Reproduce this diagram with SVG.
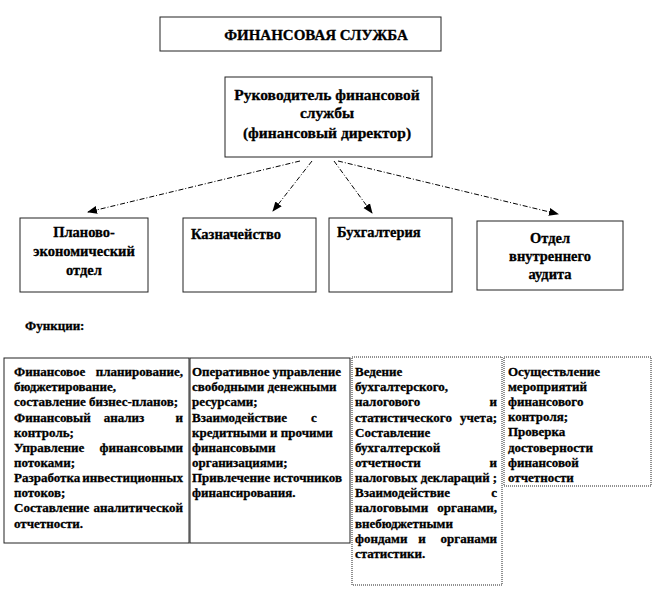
<svg xmlns="http://www.w3.org/2000/svg" width="653" height="593" viewBox="0 0 653 593">
<defs>
<marker id="ah" markerUnits="userSpaceOnUse" markerWidth="10" markerHeight="10" viewBox="0 0 10 10" refX="9" refY="5" orient="auto">
<path d="M0,1 L10,5 L0,9 Z" fill="#000"/>
</marker>
</defs>
<style>
.box{fill:#fff;stroke:#222;stroke-width:1}
.dot{fill:#fff;stroke:#222;stroke-width:1;stroke-dasharray:1 1}
.t{font-family:"Liberation Serif","Times New Roman",serif;font-weight:bold;fill:#000;stroke:#000;stroke-width:0.3}
.h{font-size:15px}
.d{font-size:15.5px}
.b{font-size:14.5px}
.s{font-size:13px}
.c{text-anchor:middle}
.e{text-anchor:end}
.arr{fill:none;stroke:#000;stroke-width:1;stroke-dasharray:5 2 1 2;marker-end:url(#ah)}
</style>
<rect width="653" height="593" fill="#fff"/>

<g id="title">
<rect class="box" x="160" y="17" width="281" height="34"/>
<text class="t h c" x="316" y="40">ФИНАНСОВАЯ СЛУЖБА</text>
</g>

<g id="director">
<rect class="box" x="225" y="77" width="207" height="80"/>
<text class="t d c" x="327" y="100">Руководитель финансовой</text>
<text class="t d c" x="327" y="118">службы</text>
<text class="t d c" x="327" y="138">(финансовый директор)</text>
</g>

<g id="connectors">
<line class="arr" x1="300" y1="161" x2="88" y2="212"/>
<line class="arr" x1="312" y1="161" x2="273" y2="211"/>
<line class="arr" x1="334" y1="161" x2="372" y2="213"/>
<line class="arr" x1="338" y1="161" x2="558" y2="214"/>
</g>

<g id="plan">
<rect class="box" x="20" y="218" width="128" height="74"/>
<text class="t b c" x="84" y="237">Планово-</text>
<text class="t b c" x="84" y="256">экономический</text>
<text class="t b c" x="84" y="275">отдел</text>
</g>

<g id="treasury">
<rect class="box" x="183" y="218" width="133" height="74"/>
<text class="t b" x="191" y="239">Казначейство</text>
</g>

<g id="accounting">
<rect class="box" x="329" y="218" width="123" height="74"/>
<text class="t b" x="337" y="237">Бухгалтерия</text>
</g>

<g id="audit">
<rect class="box" x="477" y="221" width="146" height="69"/>
<text class="t b c" x="550" y="243">Отдел</text>
<text class="t b c" x="550" y="261">внутреннего</text>
<text class="t b c" x="550" y="279">аудита</text>
</g>

<text class="t s" x="25" y="330">Функции:</text>

<g id="func1">
<rect class="box" x="4" y="358" width="185" height="185"/>
<g class="t s">
<text x="14" y="376">Финансовое</text><text class="e" x="183" y="376">планирование,</text>
<text x="14" y="391.2">бюджетирование,</text>
<text x="14" y="406.3">составление бизнес-планов;</text>
<text x="14" y="421.5">Финансовый</text><text class="c" x="124" y="421.5">анализ</text><text class="e" x="183" y="421.5">и</text>
<text x="14" y="436.6">контроль;</text>
<text x="14" y="451.8">Управление</text><text class="e" x="183" y="451.8">финансовыми</text>
<text x="14" y="466.9">потоками;</text>
<text x="14" y="482.1">Разработка</text><text class="e" x="183" y="482.1">инвестиционных</text>
<text x="14" y="497.2">потоков;</text>
<text x="14" y="512.4">Составление</text><text class="e" x="183" y="512.4">аналитической</text>
<text x="14" y="527.5">отчетности.</text>
</g>
</g>

<g id="func2">
<rect class="box" x="190" y="358" width="160" height="185"/>
<g class="t s">
<text x="192" y="376">Оперативное управление</text>
<text x="192" y="391.2">свободными денежными</text>
<text x="192" y="406.3">ресурсами;</text>
<text x="192" y="421.5">Взаимодействие</text><text x="311" y="421.5">с</text>
<text x="192" y="436.6">кредитными и прочими</text>
<text x="192" y="451.8">финансовыми</text>
<text x="192" y="466.9">организациями;</text>
<text x="192" y="482.1">Привлечение источников</text>
<text x="192" y="497.2">финансирования.</text>
</g>
</g>

<g id="func3">
<rect class="dot" x="352" y="357" width="150" height="228"/>
<g class="t s">
<text x="355" y="376">Ведение</text>
<text x="355" y="391.2">бухгалтерского,</text>
<text x="355" y="406.3">налогового</text><text class="e" x="497" y="406.3">и</text>
<text x="355" y="421.5">статистического</text><text class="e" x="497" y="421.5">учета;</text>
<text x="355" y="436.6">Составление</text>
<text x="355" y="451.8">бухгалтерской</text>
<text x="355" y="466.9">отчетности</text><text class="e" x="497" y="466.9">и</text>
<text x="355" y="482.1" textLength="142" lengthAdjust="spacingAndGlyphs">налоговых деклараций ;</text>
<text x="355" y="497.2">Взаимодействие</text><text class="e" x="497" y="497.2">с</text>
<text x="355" y="512.4">налоговыми</text><text class="e" x="497" y="512.4">органами,</text>
<text x="355" y="527.5">внебюджетными</text>
<text x="355" y="542.7">фондами</text><text class="c" x="422" y="542.7">и</text><text class="e" x="497" y="542.7">органами</text>
<text x="355" y="557.8">статистики.</text>
</g>
</g>

<g id="func4">
<rect class="dot" x="504" y="357" width="147" height="129"/>
<g class="t s">
<text x="508" y="376">Осуществление</text>
<text x="508" y="391.1">мероприятий</text>
<text x="508" y="406.2">финансового</text>
<text x="508" y="421.3">контроля;</text>
<text x="508" y="436.4">Проверка</text>
<text x="508" y="451.5">достоверности</text>
<text x="508" y="466.6">финансовой</text>
<text x="508" y="481.7">отчетности</text>
</g>
</g>
</svg>
